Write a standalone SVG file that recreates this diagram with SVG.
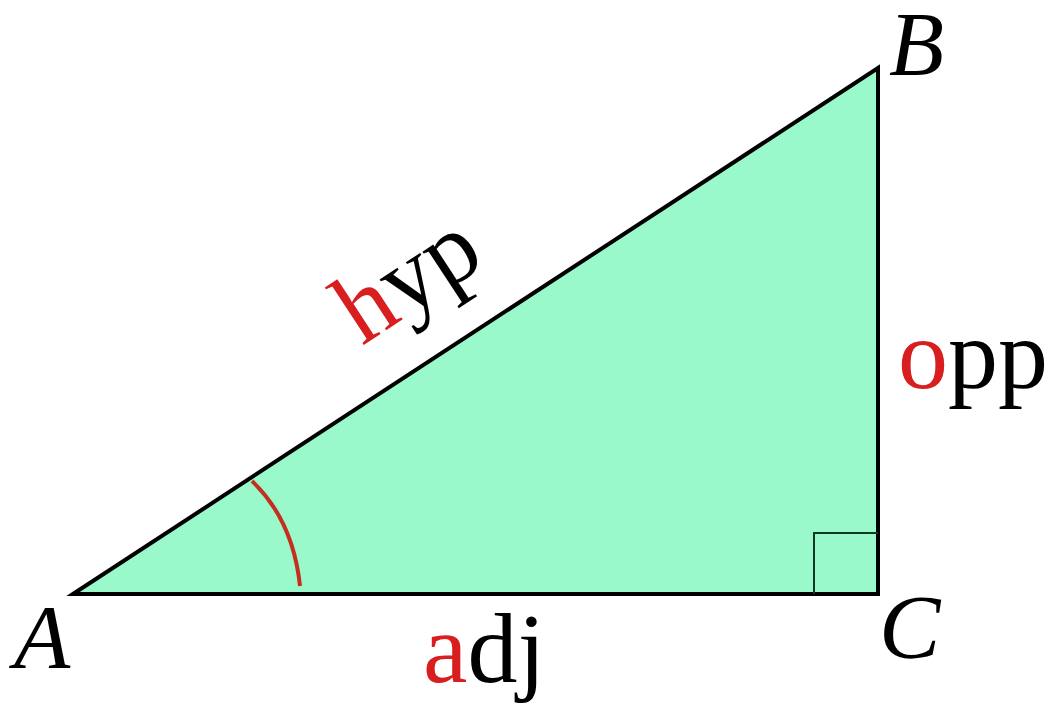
<svg xmlns="http://www.w3.org/2000/svg" width="1055" height="708" viewBox="0 0 1055 708">
<style>
.lbl{font-family:"Liberation Serif","Times New Roman",serif;font-style:italic;font-size:92px;fill:#000}
.side{font-family:"Liberation Serif","Times New Roman",serif;font-size:100px;fill:#000}
.red{fill:#d81e1e}
</style>
<rect width="1055" height="708" fill="#fff"/>
<g id="triangle">
<polygon points="73,594 878,68 878,594" fill="#99f9cb" stroke="#000" stroke-width="4" stroke-linejoin="miter"/>
<polyline points="814,594 814,533 878,533" fill="none" stroke="#0b3a25" stroke-width="2"/>
<path d="M252,481 Q293,520 300,586" fill="none" stroke="#c3301f" stroke-width="4"/>
</g>
<g id="labels">
<text class="lbl" x="14" y="668">A</text>
<text class="lbl" x="889" y="75" style="font-size:90px">B</text>
<text class="lbl" x="879" y="658">C</text>
<text class="side" x="423" y="682"><tspan class="red">a</tspan>dj</text>
<text class="side" x="898" y="388"><tspan class="red">o</tspan>pp</text>
<text class="side" transform="translate(362,346) rotate(-33.2)"><tspan class="red">h</tspan>yp</text>
</g>
</svg>
